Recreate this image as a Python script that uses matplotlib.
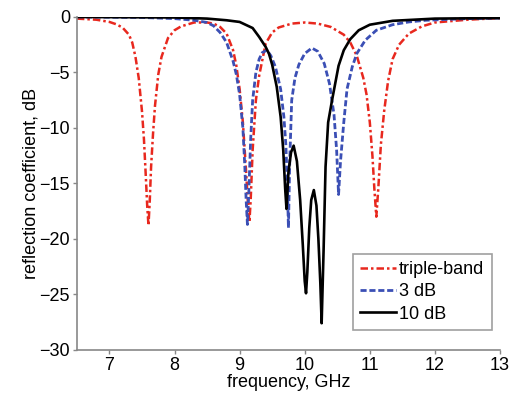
import matplotlib
matplotlib.use('Agg')
import matplotlib.pyplot as plt

plt.rcParams['font.family'] = ['Liberation Sans', 'DejaVu Sans']

# triple-band response
tb_f = [6.5, 6.8, 7.0, 7.1, 7.2, 7.3, 7.35, 7.4, 7.45, 7.5, 7.53, 7.56, 7.58, 7.6,
        7.62, 7.64, 7.67, 7.7, 7.75, 7.8, 7.9, 8.0, 8.1, 8.3, 8.5, 8.6, 8.7, 8.8,
        8.9, 8.95, 9.0, 9.05, 9.1, 9.13, 9.15, 9.17, 9.2, 9.25, 9.3, 9.4, 9.5, 9.6,
        9.8, 10.0, 10.2, 10.4, 10.6, 10.7, 10.8, 10.9, 10.95, 11.0, 11.04, 11.07,
        11.1, 11.13, 11.17, 11.22, 11.28, 11.35, 11.45, 11.6, 11.8, 12.0, 12.5, 13.0]
tb_db = [-0.15, -0.25, -0.45, -0.65, -0.95, -1.6, -2.3, -3.6, -5.5, -8.5, -11, -14.5, -17, -18.8,
         -16.5, -13.5, -10.5, -8, -5.2, -3.6, -1.9, -1.2, -0.85, -0.5, -0.5, -0.6, -0.9, -1.5,
         -3.0, -4.4, -6.5, -9.5, -14, -17, -18.5, -16.5, -12, -7.5, -5.3, -2.4, -1.4, -0.95,
         -0.6, -0.5, -0.6, -0.9, -1.6, -2.3, -3.5, -5.5, -7.0, -9.5, -12.5, -15.5,
         -18.0, -15.5, -11.5, -8.5, -5.8, -3.8, -2.5, -1.5, -0.85, -0.5, -0.25, -0.1]

# 3 dB response
d3_f = [6.5, 7.5, 8.0, 8.3, 8.5, 8.6, 8.7, 8.8, 8.9, 8.95, 9.0, 9.05, 9.08, 9.1, 9.12,
        9.14, 9.17, 9.2, 9.25, 9.3, 9.35, 9.42, 9.48, 9.55, 9.63, 9.68, 9.71, 9.73, 9.75,
        9.77, 9.8, 9.85, 9.91, 10.0, 10.11, 10.2, 10.3, 10.38, 10.45, 10.49, 10.52, 10.55,
        10.6, 10.65, 10.73, 10.8, 10.93, 11.1, 11.35, 11.6, 11.86, 12.5, 13.0]
d3_db = [0, -0.05, -0.15, -0.3, -0.5, -0.8, -1.4, -2.3, -4.0, -5.2, -7.0, -10, -13.5, -16.5, -18.7,
         -16, -11, -7.5, -5, -3.8, -3.2, -3.0, -3.5, -4.5, -6.5, -9, -11.5, -14.5, -19,
         -13, -7.5, -5.5, -4.3, -3.3, -2.8, -3.1, -4.2, -6, -8.8, -12, -16, -13,
         -9.5, -6.5, -4.5, -3.3, -2.1, -1.2, -0.7, -0.45, -0.3, -0.15, -0.1]

# 10 dB response
d10_f = [6.5, 8.0, 8.5, 8.8, 9.0, 9.2, 9.3, 9.4, 9.45, 9.5, 9.57, 9.63, 9.67, 9.7, 9.72,
         9.75, 9.79, 9.83, 9.88, 9.93, 9.97, 10.0, 10.02, 10.04, 10.07, 10.1, 10.14,
         10.18, 10.21, 10.24, 10.26, 10.29, 10.32, 10.36, 10.42, 10.52, 10.6, 10.7,
         10.83, 11.0, 11.35, 12.0, 13.0]
d10_db = [0, -0.05, -0.15, -0.3, -0.45, -1.0, -1.8, -2.7, -3.3, -4.3, -6.3, -9, -12, -15.5, -17.3,
          -14.0, -12.2, -11.6, -13, -16.5, -20.5, -23.8, -24.9, -23, -19, -16.5, -15.6,
          -17, -20, -24, -27.6, -21, -13.5, -9.5, -7.5, -4.4, -3.0, -2.0,
          -1.2, -0.7, -0.35, -0.15, -0.1]

fig, ax = plt.subplots(figsize=(5.16, 3.94), dpi=100)
fig.subplots_adjust(left=0.149, right=0.969, bottom=0.112, top=0.957)

ax.plot(tb_f, tb_db, color='#e8281e', lw=1.8, linestyle=(0, (3, 1.2, 1, 1.2)), label='triple-band')
ax.plot(d3_f, d3_db, color='#3b4fb5', lw=2.0, linestyle=(0, (2.2, 1.0)), label='3 dB')
ax.plot(d10_f, d10_db, color='black', lw=1.9, label='10 dB')

ax.set_xlim(6.5, 13)
ax.set_ylim(-30, 0)
ax.set_xticks([7, 8, 9, 10, 11, 12, 13])
ax.set_yticks([0, -5, -10, -15, -20, -25, -30])
ax.set_xlabel('frequency, GHz', fontsize=13, labelpad=0)
ax.set_ylabel('reflection coefficient, dB', fontsize=13, labelpad=0)

for s in ['top', 'right']:
    ax.spines[s].set_visible(False)
for s in ['left', 'bottom']:
    ax.spines[s].set_color('#888888')
    ax.spines[s].set_linewidth(1.2)
ax.tick_params(colors='#888888', labelcolor='black', labelsize=13, length=3, width=1, pad=2)

leg = ax.legend(loc='lower right', bbox_to_anchor=(0.98, 0.06), fontsize=13, frameon=True,
                fancybox=False, handlelength=2.0, handletextpad=0.15, borderpad=0.4,
                labelspacing=0.3, borderaxespad=0, edgecolor='#888888')
leg.get_frame().set_linewidth(1.2)

plt.savefig('out.png', dpi=100)
